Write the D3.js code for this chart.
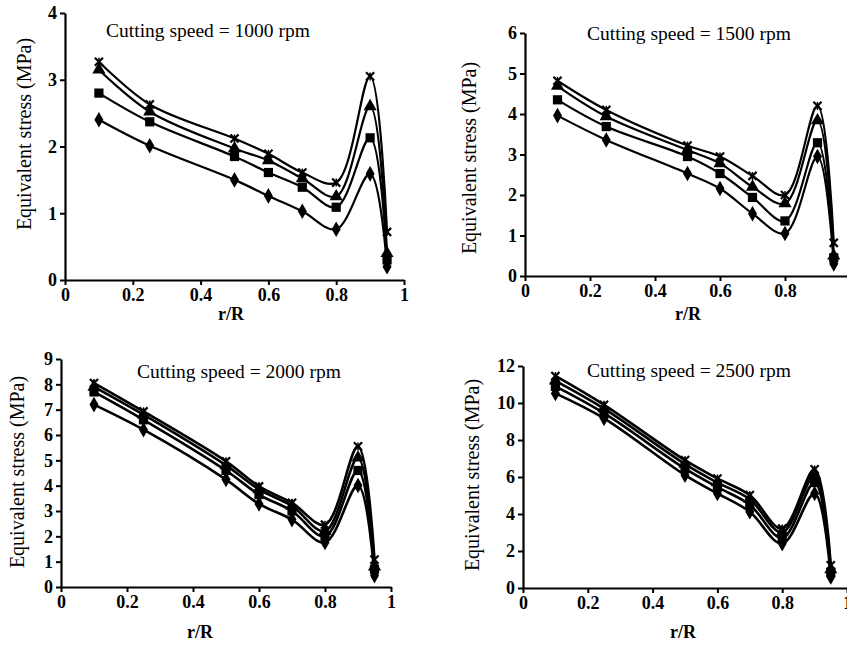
<!DOCTYPE html>
<html>
<head>
<meta charset="utf-8">
<script src="https://cdn.jsdelivr.net/npm/d3@7/dist/d3.min.js"></script>
<style>
  html, body { margin: 0; padding: 0; background: #fff; }
  svg { display: block; }
  svg text { font-family: 'Liberation Serif', 'Times New Roman', 'DejaVu Serif', serif !important; fill: #000; }
</style>
</head>
<body>
<svg id="chart" width="847" height="645"></svg>
<script>
// ---- Data ----
const rR = [0.1, 0.25, 0.5, 0.6, 0.7, 0.8, 0.9, 0.95];
const xTicks = [0, 0.2, 0.4, 0.6, 0.8, 1];
const speeds = ["1000", "1500", "2000", "2500"];

// 1000 rpm
const diamond1000 = [2.40, 2.01, 1.50, 1.26, 1.03, 0.76, 1.59, 0.20];
const square1000  = [2.80, 2.37, 1.85, 1.61, 1.39, 1.09, 2.13, 0.30];
const triangle1000= [3.15, 2.52, 1.97, 1.79, 1.52, 1.25, 2.60, 0.40];
const cross1000   = [3.27, 2.63, 2.12, 1.89, 1.61, 1.46, 3.05, 0.72];
const yTicks1000  = [0, 1, 2, 3, 4];

// 1500 rpm
const diamond1500 = [3.96, 3.36, 2.53, 2.16, 1.54, 1.05, 2.95, 0.30];
const square1500  = [4.35, 3.69, 2.95, 2.53, 1.94, 1.36, 3.29, 0.45];
const triangle1500= [4.69, 3.94, 3.11, 2.78, 2.20, 1.79, 3.84, 0.50];
const cross1500   = [4.82, 4.10, 3.22, 2.95, 2.47, 2.00, 4.20, 0.82];
const yTicks1500  = [0, 1, 2, 3, 4, 5, 6];

// 2000 rpm
const diamond2000 = [7.20, 6.21, 4.24, 3.28, 2.66, 1.76, 4.01, 0.45];
const square2000  = [7.70, 6.60, 4.60, 3.65, 3.00, 2.00, 4.60, 0.70];
const triangle2000= [7.90, 6.80, 4.80, 3.85, 3.20, 2.20, 5.10, 0.80];
const cross2000   = [8.05, 6.93, 4.96, 3.97, 3.32, 2.46, 5.55, 1.08];
const yTicks2000  = [0, 1, 2, 3, 4, 5, 6, 7, 8, 9];

// 2500 rpm
const diamond2500 = [10.52, 9.17, 6.10, 5.11, 4.12, 2.40, 5.11, 0.60];
const square2500  = [10.90, 9.45, 6.45, 5.45, 4.50, 2.70, 5.70, 0.85];
const triangle2500= [11.20, 9.70, 6.70, 5.70, 4.80, 3.00, 6.10, 1.00];
const cross2500   = [11.46, 9.90, 6.91, 5.92, 5.02, 3.21, 6.41, 1.23];
const yTicks2500  = [0, 2, 4, 6, 8, 10, 12];

const seriesBySpeed = [
  [diamond1000, square1000, triangle1000, cross1000],
  [diamond1500, square1500, triangle1500, cross1500],
  [diamond2000, square2000, triangle2000, cross2000],
  [diamond2500, square2500, triangle2500, cross2500]
];
const yTicksBySpeed = [yTicks1000, yTicks1500, yTicks2000, yTicks2500];
const markerKinds = ["diamond", "square", "triangle", "cross"];

// ---- Layout ----
const panels = [
  { x0: 65,  x1: 404, y0: 280, y1: 13,  titleX: 208, titleY: 37, xlabX: 231, xlabY: 320, ylabX: 31,  ylabY: 134 },
  { x0: 525, x1: 850, y0: 276, y1: 33,  titleX: 689, titleY: 40, xlabX: 688, xlabY: 320, ylabX: 476, ylabY: 158 },
  { x0: 61,  x1: 391, y0: 587, y1: 359, titleX: 239, titleY: 378, xlabX: 200, xlabY: 638, ylabX: 24, ylabY: 472 },
  { x0: 523, x1: 847, y0: 588, y1: 366, titleX: 689, titleY: 377, xlabX: 683, xlabY: 638, ylabX: 479, ylabY: 475 }
];

const svg = d3.select("#chart");

panels.forEach((p, i) => {
  const yt = yTicksBySpeed[i];
  const x = d3.scaleLinear().domain([0, 1]).range([p.x0, p.x1]);
  const y = d3.scaleLinear().domain([0, yt[yt.length - 1]]).range([p.y0, p.y1]);
  const g = svg.append("g");

  // axes
  const xAxis = d3.axisBottom(x).tickValues(xTicks).tickSize(5).tickSizeOuter(0).tickPadding(3)
    .tickFormat(d => d === 0 ? "0" : d === 1 ? "1" : d3.format(".1f")(d));
  const gx = g.append("g").attr("transform", `translate(0,${p.y0})`).call(xAxis);
  const yAxis = d3.axisLeft(y).tickValues(yt).tickSize(5).tickSizeOuter(0).tickPadding(3)
    .tickFormat(d => String(d));
  const gy = g.append("g").attr("transform", `translate(${p.x0},0)`).call(yAxis);
  [gx, gy].forEach(a => {
    a.attr("font-family", null).attr("font-size", null);
    a.select(".domain").attr("stroke", "#000").attr("stroke-width", 2.2);
    a.selectAll(".tick line").attr("stroke", "#000").attr("stroke-width", 2);
    a.selectAll(".tick text")
      .style("font-size", "18px").style("font-weight", "bold").attr("fill", "#000");
  });

  // labels
  g.append("text").attr("x", p.titleX).attr("y", p.titleY).attr("text-anchor", "middle")
    .style("font-size", "19.5px").text(`Cutting speed = ${speeds[i]} rpm`);
  g.append("text").attr("x", p.xlabX).attr("y", p.xlabY).attr("text-anchor", "middle")
    .style("font-size", "18px").style("font-weight", "bold").text("r/R");
  g.append("text").attr("transform", `translate(${p.ylabX},${p.ylabY}) rotate(-90)`)
    .attr("text-anchor", "middle").style("font-size", "20px").text("Equivalent stress (MPa)");

  const line = d3.line().x((d, k) => x(rR[k])).y(d => y(d)).curve(d3.curveCatmullRom.alpha(0.5));

  seriesBySpeed[i].forEach((vals, s) => {
    g.append("path").datum(vals).attr("d", line)
      .attr("fill", "none").attr("stroke", "#000").attr("stroke-width", i >= 2 ? 2.6 : 2.2);

    const kind = markerKinds[s];
    const mk = g.append("g");
    vals.forEach((v, k) => {
      const cx = x(rR[k]), cy = y(v);
      if (kind === "diamond") {
        mk.append("path").attr("d", d3.symbol(d3.symbolDiamond, 70)()).attr("transform", `translate(${cx},${cy})`).attr("fill", "#000");
      } else if (kind === "square") {
        mk.append("path").attr("d", d3.symbol(d3.symbolSquare, 85)()).attr("transform", `translate(${cx},${cy})`).attr("fill", "#000");
      } else if (kind === "triangle") {
        mk.append("path").attr("d", d3.symbol(d3.symbolTriangle, 75)()).attr("transform", `translate(${cx},${cy})`).attr("fill", "#000");
      } else {
        mk.append("path").attr("d", d3.symbol(d3.symbolTimes, 45)()).attr("transform", `translate(${cx},${cy})`)
          .attr("fill", "none").attr("stroke", "#000").attr("stroke-width", 2.2);
        mk.append("line").attr("x1", cx).attr("x2", cx).attr("y1", cy - 4).attr("y2", cy + 4)
          .attr("stroke", "#000").attr("stroke-width", 1.5);
      }
    });
  });
});
</script>
</body>
</html>
